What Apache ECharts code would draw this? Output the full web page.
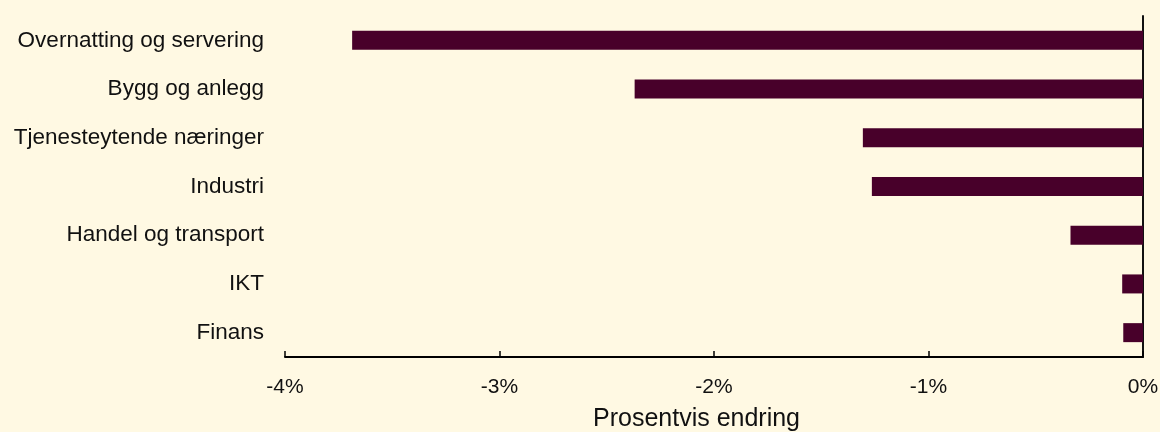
<!DOCTYPE html>
<html>
<head>
<meta charset="utf-8">
<script src="https://cdn.jsdelivr.net/npm/echarts@6/dist/echarts.min.js"></script>
<style>
html,body{margin:0;padding:0;background:#FFF9E3;}
#chart{width:1160px;height:432px;}
</style>
</head>
<body>
<div id="chart"></div>
<script>
const categories = ["Overnatting og servering","Bygg og anlegg","Tjenesteytende næringer","Industri","Handel og transport","IKT","Finans"];
const values = [-3.687, -2.370, -1.306, -1.264, -0.338, -0.097, -0.092];
const xTicks = [-4, -3, -2, -1, 0];
const axisTitle = "Prosentvis endring";

const chart = echarts.init(document.getElementById('chart'), null, {renderer:'canvas'});
chart.setOption({
  backgroundColor: '#FFF9E3',
  animation: false,
  textStyle: {fontFamily: 'Liberation Sans, Arial, sans-serif'},
  grid: {left: 285, right: 17, top: 16, bottom: 75, containLabel: false, outerBoundsMode: 'none'},
  xAxis: {
    type: 'value',
    min: xTicks[0], max: xTicks[xTicks.length-1], interval: 1,
    splitLine: {show: false},
    axisLine: {show: true, onZero: false, lineStyle: {color: '#000', width: 2}},
    axisTick: {show: true, inside: true, length: 6, lineStyle: {color: '#000', width: 1.5}},
    axisLabel: {margin: 20, fontSize: 21, color: '#111', formatter: v => v + '%'},
    name: axisTitle,
    nameLocation: 'middle',
    nameGap: 50,
    nameTextStyle: {fontSize: 25, color: '#111', padding: [0, 35, 0, 0]}
  },
  yAxis: [{
    type: 'category',
    data: categories,
    inverse: true,
    position: 'left',
    axisLine: {show: false},
    axisTick: {show: false},
    axisLabel: {margin: 21, fontSize: 22.5, color: '#111'}
  }, {
    type: 'category',
    data: categories,
    inverse: true,
    position: 'right',
    axisLine: {show: true, lineStyle: {color: '#111', width: 2}},
    axisTick: {show: false},
    axisLabel: {show: false}
  }],
  series: [{
    type: 'bar',
    yAxisIndex: 0,
    data: values,
    barWidth: 19,
    itemStyle: {color: '#48002A'}
  }]
});
</script>
</body>
</html>
